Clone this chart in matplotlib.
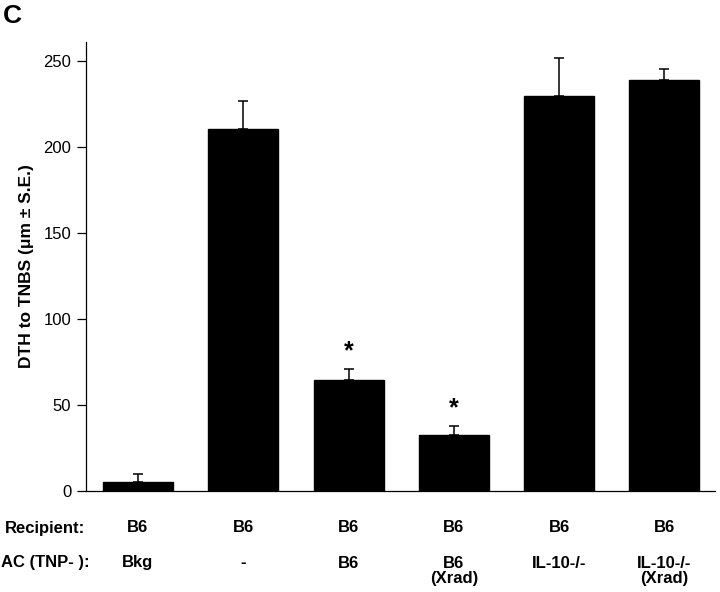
import matplotlib
matplotlib.use("Agg")
import matplotlib.pyplot as plt
import matplotlib.transforms as mtransforms
import numpy as np

plt.rcParams.update({
    "font.family": ["Liberation Sans", "DejaVu Sans"],
    "font.size": 11,
    "axes.linewidth": 0.9,
})

# ---------------------------------------------------------------------------
# Data
# ---------------------------------------------------------------------------
recipient = ["B6", "B6", "B6", "B6", "B6", "B6"]
ac_tnp = ["Bkg", "-", "B6", "B6\n(Xrad)", "IL-10-/-", "IL-10-/-\n(Xrad)"]
dth_mean = [5.2, 210.5, 64.5, 32.6, 229.7, 239.0]
dth_se = [4.7, 16.2, 6.5, 5.2, 22.0, 6.3]
significant = [False, False, True, True, False, False]

fig = plt.figure(figsize=(7.2, 5.92), dpi=100)
ax = fig.add_axes([0.1194, 0.1706, 0.8736, 0.7584])

x = np.arange(len(dth_mean))
ax.bar(x, dth_mean, width=0.665, color="black", edgecolor="black", zorder=2)
ax.errorbar(x, dth_mean, yerr=[np.zeros(len(dth_se)), dth_se], fmt="none",
            ecolor="black", elinewidth=1.1, capsize=3.3, capthick=1.1, zorder=3)

for xi, m, s, sig in zip(x, dth_mean, dth_se, significant):
    if sig:
        ax.annotate("*", (xi, m + s), xytext=(0, 4), textcoords="offset points",
                    ha="center", va="bottom", fontsize=18, fontweight="bold")

ax.set_xlim(-0.494, 5.48)
ax.set_ylim(0, 261)
ax.set_yticks([0, 50, 100, 150, 200, 250])
ax.set_xticks([])
ax.spines["top"].set_visible(False)
ax.spines["right"].set_visible(False)
ax.tick_params(axis="y", direction="out", length=6.5, width=0.9, pad=4, labelsize=12)

ax.set_ylabel("DTH to TNBS (\u03bcm \u00b1 S.E.)", fontsize=12.5, fontweight="bold",
              labelpad=7)

# category rows under the axis
trans = mtransforms.blended_transform_factory(ax.transData, fig.transFigure)
row_y = {"rec": 528, "ac": 563}
line_step = 16
for xi, r, a in zip(x, recipient, ac_tnp):
    ax.text(xi, 1 - row_y["rec"] / 592, r, transform=trans, ha="center",
            va="center", fontsize=12, fontweight="bold")
    for k, line in enumerate(a.split("\n")):
        ax.text(xi, 1 - (row_y["ac"] + k * line_step) / 592, line,
                transform=trans, ha="center", va="center", fontsize=12,
                fontweight="bold")
fig.text(45 / 720, 1 - row_y["rec"] / 592, "Recipient:", ha="center",
         va="center", fontsize=12, fontweight="bold")
fig.text(45 / 720, 1 - row_y["ac"] / 592, "AC (TNP- ):", ha="center",
         va="center", fontsize=12, fontweight="bold")

fig.text(3 / 720, 1 - 16 / 592, "C", ha="left", va="center",
         fontsize=19, fontweight="bold")

fig.savefig("out.png", dpi=100)
